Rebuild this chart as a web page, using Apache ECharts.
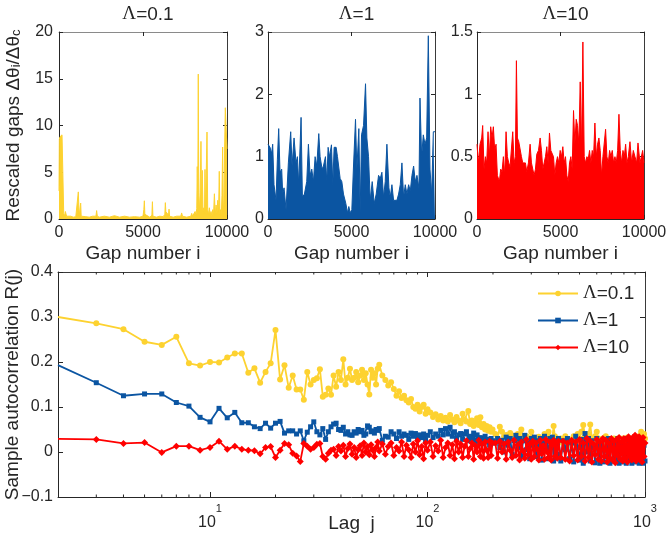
<!DOCTYPE html>
<html><head><meta charset="utf-8">
<script src="https://cdn.jsdelivr.net/npm/echarts@6/dist/echarts.min.js"></script>
<style>html,body{margin:0;padding:0;background:#fff}#c{width:670px;height:536px}</style>
</head><body><div id="c"></div>
<script>
// ---------- top panels: rescaled gaps vs gap number ----------
const gapIdx01 = [0,20,60,120,180,240,280,330,380,450,550,700,850,1000,1100,1150,1200,1260,1290,1320,1400,1600,1800,2000,2200,2240,2280,2400,2700,3000,3300,3600,3900,4200,4500,4800,5000,5050,5080,5110,5200,5400,5530,5560,5590,5800,6000,6200,6300,6330,6360,6450,6520,6550,6580,6800,7000,7250,7300,7350,7600,7850,7900,7950,8050,8100,8150,8200,8230,8260,8290,8320,8360,8400,8450,8490,8530,8570,8620,8660,8690,8720,8760,8810,8850,8900,8950,9000,9050,9100,9150,9200,9250,9300,9350,9400,9450,9500,9540,9580,9620,9660,9700,9740,9780,9820,9860,9900,9950,10000];
const gaps01 = [3.0,8.5,8.8,8.6,9.0,8.9,0.6,0.3,0.8,0.3,0.2,0.3,0.2,0.25,0.3,2.9,0.3,0.4,1.7,0.3,0.2,0.25,0.2,0.3,0.3,0.9,0.3,0.2,0.3,0.2,0.35,0.2,0.3,0.2,0.25,0.2,0.3,1.0,1.95,0.5,0.3,0.2,0.4,1.85,0.3,0.2,0.3,0.25,0.5,1.75,0.8,0.6,0.4,1.05,0.3,0.2,0.3,0.3,0.65,0.3,0.2,0.3,0.6,0.3,0.5,0.8,0.4,1.1,5.6,2.0,15.5,2.5,1.0,2.8,8.3,1.5,5.2,0.8,1.2,0.5,5.3,0.6,0.4,9.3,1.0,0.5,1.2,0.4,0.8,0.3,1.0,0.5,2.7,0.4,1.5,0.6,2.0,0.8,5.1,0.5,1.0,0.4,2.5,7.7,0.6,2.0,7.8,11.9,11.8,7.5];

const gapIdx1 = [0,120,220,280,360,480,560,640,720,820,880,960,1080,1220,1360,1440,1560,1680,1760,1840,1980,2060,2180,2320,2420,2520,2620,2720,2820,2920,3040,3120,3240,3320,3440,3520,3600,3680,3800,3880,3960,4080,4160,4240,4320,4420,4520,4660,4760,4840,4920,5020,5120,5240,5320,5440,5520,5600,5720,5840,5920,6020,6120,6240,6360,6480,6620,6720,6820,6920,7020,7120,7240,7320,7420,7520,7620,7720,7820,7920,8020,8120,8220,8320,8420,8520,8620,8720,8820,8920,9040,9100,9200,9300,9400,9500,9600,9700,9800,9900,10000];
const gaps1 = [1.2,1.15,1.05,1.2,0.55,0.3,0.95,1.45,0.75,0.8,0.4,0.5,0.15,0.9,1.4,0.85,1.3,0.9,1.0,0.55,1.63,0.35,0.4,0.6,1.2,0.7,0.8,0.6,1.0,0.85,1.37,1.0,0.8,0.85,1.0,0.6,1.15,1.0,1.19,0.55,1.15,1.15,1.0,1.0,0.65,0.6,0.4,0.25,0.1,0.2,0.1,0.15,0.85,1.6,0.8,1.45,0.1,1.35,1.5,2.17,1.3,1.0,0.3,0.6,0.25,0.4,0.7,0.65,0.75,0.35,0.6,1.2,0.5,0.35,0.55,0.3,0.3,0.3,0.4,0.55,0.9,0.35,0.55,0.4,0.55,0.45,0.7,0.85,0.6,0.7,0.5,1.94,1.0,1.35,1.2,1.3,2.94,0.8,0.4,1.4,1.4];

const gapIdx10 = [0,80,180,280,340,420,500,580,660,740,820,900,980,1060,1140,1220,1340,1420,1500,1580,1660,1740,1820,1900,1980,2060,2140,2220,2300,2360,2420,2500,2580,2660,2740,2820,2900,2980,3080,3180,3260,3340,3420,3500,3580,3680,3780,3860,3940,4020,4100,4180,4260,4340,4420,4500,4580,4660,4740,4820,4900,4980,5060,5140,5220,5300,5380,5460,5540,5620,5700,5780,5860,5940,6020,6100,6180,6260,6340,6420,6500,6580,6660,6740,6820,6900,6980,7060,7140,7220,7300,7380,7460,7540,7620,7700,7780,7860,7940,8020,8100,8180,8260,8340,8420,8500,8580,8660,8740,8820,8900,8980,9060,9160,9260,9360,9460,9560,9640,9760,9840,9920,10000];
const gaps10 = [0.6,0.45,0.6,0.65,0.75,0.4,0.5,0.45,0.7,0.5,0.74,0.65,0.74,0.55,0.6,0.35,0.3,0.4,0.38,0.5,0.35,0.7,0.5,0.45,0.42,0.42,0.7,0.45,0.5,1.27,0.65,0.62,0.62,0.5,0.45,0.45,0.45,0.38,0.45,0.6,0.45,0.4,0.35,0.4,0.52,0.55,0.65,0.55,0.4,0.45,0.5,0.58,0.45,0.69,0.55,0.55,0.5,0.35,0.45,0.5,0.45,0.55,0.5,0.58,0.45,0.5,0.35,0.3,0.45,0.5,0.4,0.87,0.6,0.8,0.75,0.6,1.1,0.55,1.42,0.5,0.45,0.5,0.48,0.55,0.45,0.55,0.5,0.77,0.5,0.6,0.65,0.55,0.35,0.5,0.5,0.72,0.5,0.45,0.55,0.5,0.55,0.45,0.5,0.45,0.55,0.84,0.55,0.45,0.55,0.5,0.6,0.45,0.5,0.62,0.45,0.55,0.5,0.45,0.61,0.45,0.5,0.55,0.45];

const gapYMax = [20, 3, 1.5];
const gapYInterval = [5, 1, 0.5];
const lambdaLabels = ['0.1', '1', '10'];

// ---------- bottom panel: sample autocorrelation vs lag ----------
const lags = [2,3,4,5,6,7,8,9,10,11,12,13,14,15,16,17,18,19,20,21,22,23,24,25,26,27,28,29,30,31,32,33,34,35,36,37,38,39,40,41,42,43,44,45,46,47,48,49,50,51,52,53,54,55,56,57,58,59,60,
  62,64,66,68,70,72,74,76,78,80,82,84,86,88,90,92,94,96,98,100,
  103,106,109,112,115,118,121,124,127,130,133,136,139,142,145,148,151,154,157,160,163,166,169,172,175,178,181,184,187,190,193,196,199,
  205,210,215,220,225,230,235,240,245,250,255,260,265,270,275,280,285,290,295,300,305,310,315,320,325,330,335,340,345,350,355,360,365,370,375,380,385,390,395,400,
  410,420,430,440,450,460,470,480,490,500,510,520,530,540,550,560,570,580,590,600,610,620,630,640,650,660,670,680,690,700,
  710,720,730,740,750,760,770,780,790,800,810,820,830,840,850,860,870,880,890,900,910,920,930,940,950,960,970,980,990,1000];
const acf01 = [.300,.286,.273,.245,.238,.256,.197,.192,.200,.199,
  .210,.219,.219,.176,.186,.154,.178,.197,.271,.161,
  .193,.143,.170,.139,.139,.116,.178,.150,.160,.164,
  .184,.123,.127,.141,.127,.170,.145,.178,.160,.206,
  .150,.165,.185,.160,.165,.178,.155,.170,.183,.160,
  .175,.150,.128,.183,.165,.175,.150,.185,.194,
  .170,.160,.148,.155,.140,.125,.135,.120,.125,.115,.110,.118,.100,.096,.105,.090,.100,.105,.085,.095,
  .088,.078,.084,.072,.080,.070,.076,.068,.082,.072,.066,.078,.070,.064,.085,.072,.068,.091,.062,.070,.058,.066,.075,.060,.077,.055,.062,.050,.058,.047,.055,.045,.050,
  .040,.030,.056,.045,.035,.038,.028,.042,.030,.036,.025,.040,.032,.050,.030,.026,.035,.020,.030,.045,
  .032,.025,.028,.015,.034,.030,.022,.030,.040,.025,.035,.045,.028,.022,.030,.058,.035,.025,.030,.020,
  .030,.020,.035,.015,.028,.022,.035,.018,.040,.030,.045,.060,.035,.028,.040,.061,.030,.025,.035,.045,
  .030,.025,.015,.030,.022,.035,.020,.028,.010,.025,.018,.030,.015,.025,.030,.020,.005,.022,.030,.020,
  .010,.025,.032,.015,.022,.030,.010,.025,.018,.030,.012,.020,.028,.035,.020,.045,.030,.025,.040,.030];
const acf1 = [.193,.154,.125,.129,.129,.110,.102,.077,.067,.097,
  .076,.088,.065,.065,.056,.052,.064,.053,.064,.068,
  .042,.047,.047,.040,.047,.025,.044,.056,.067,.045,
  .038,.052,.028,.045,.056,.062,.064,.050,.048,.055,
  .040,.045,.038,.037,.045,.042,.050,.045,.048,.037,
  .040,.058,.055,.045,.047,.042,.050,.048,.052,
  .026,.035,.033,.045,.040,.030,.045,.035,.040,.037,.028,.042,.035,.041,.030,.038,.032,.040,.027,.037,
  .045,.032,.040,.035,.048,.038,.052,.040,.055,.035,.045,.030,.038,.041,.028,.040,.045,.025,.035,.030,.042,.020,.038,.025,.032,.018,.030,.035,.022,.028,.015,.030,.025,
  .020,.030,.010,.026,.000,.033,.015,.030,-.005,.025,.037,.010,.030,-.010,.025,.037,.005,.020,-.015,.030,
  .015,.033,-.010,.025,.000,.030,-.018,.020,.035,.005,.025,-.015,.030,.010,.033,-.020,.015,.025,-.005,.030,
  -.020,.025,.005,.030,-.015,.020,-.022,.035,.010,-.018,.028,-.025,.041,.000,.030,-.020,.025,.010,-.024,.030,
  .015,-.025,.020,.005,-.022,.028,-.010,.030,-.025,.020,.010,-.020,.025,-.015,.030,-.025,.015,.020,-.022,.028,
  .005,-.025,.030,-.018,.020,.010,-.025,.025,-.015,.030,-.022,.015,.020,-.025,.028,-.010,.022,-.025,.015,-.020];
const acf10 = [.029,.028,.019,.021,-.001,.013,.013,.004,.010,.024,
  .006,.013,.006,.004,.003,-.004,.010,.012,-.012,.004,
  .019,.016,-.003,-.009,-.021,.019,.013,.006,.010,.017,
  .019,-.010,-.016,-.003,.004,.006,-.008,.012,.002,.015,
  -.010,.008,.018,-.005,.010,-.012,.005,.014,-.008,.020,
  .000,.012,-.006,.016,.004,-.010,.010,.022,.002,
  .018,-.005,.012,.020,-.008,.010,.002,.022,-.010,.015,.005,-.012,.018,.000,.025,-.006,.012,-.015,.020,.004,
  .022,-.010,.014,.002,.026,-.012,.010,.020,-.008,.016,-.015,.024,.000,.018,-.012,.012,.025,-.010,.008,.020,-.016,.014,.000,.026,-.010,.018,-.014,.022,.004,-.012,.024,-.008,.020,
  .020,-.014,.024,.000,.018,-.016,.022,.004,-.012,.026,-.008,.016,-.018,.022,.002,-.014,.028,-.006,.018,-.016,
  .024,-.010,.020,.006,-.018,.026,-.004,.014,-.016,.028,.000,-.012,.022,-.018,.016,.026,-.010,.020,-.014,.024,
  -.012,.024,-.016,.020,-.020,.026,-.008,.022,-.018,.028,-.010,.020,-.020,.030,-.012,.024,-.022,.018,-.006,.028,
  -.016,.022,-.020,.030,-.010,.026,-.022,.020,-.014,.030,-.018,.024,-.024,.028,-.008,.032,-.016,.022,-.020,.030,
  -.012,.026,-.022,.034,-.010,.028,-.018,.032,-.014,.037,-.020,.030,-.012,.034,-.018,.028,-.022,.032,-.010,.020];
const lagMinorTicks = [3,4,5,6,7,8,9,20,30,40,50,60,70,80,90,200,300,400,500,600,700,800,900];
const acfYMin = -0.1, acfYMax = 0.4, acfYInterval = 0.1;
const lagMin = 2, lagMax = 1000;

// ---------- styling ----------
const COLORS = ['#FDD230', '#0B55A2', '#FF0000'];
const INK = '#262626';
const SANS = 'Liberation Sans';
const SERIF = 'Liberation Serif';

const grids = [
  {left: 59, top: 32, width: 168, height: 187},
  {left: 268, top: 32, width: 167, height: 187},
  {left: 477, top: 32, width: 167, height: 187},
  {left: 58, top: 272, width: 587, height: 225}
];

const xAxes = [], yAxes = [], series = [];
const gapIdx = [gapIdx01, gapIdx1, gapIdx10];
const gapVals = [gaps01, gaps1, gaps10];
const yLabelMargin = [6, 4, 4];

for (let p = 0; p < 3; p++) {
  xAxes.push({
    gridIndex: p, type: 'value', position: 'bottom', min: 0, max: 10000, interval: 5000,
    axisLine: {onZero: false, lineStyle: {color: INK, width: 1}},
    axisTick: {inside: true, length: 4, lineStyle: {color: INK}},
    axisLabel: {color: INK, fontSize: 16, margin: 6, fontFamily: SANS, formatter: v => String(v)},
    splitLine: {show: false},
    name: 'Gap number i', nameLocation: 'middle', nameGap: 25, nameMoveOverlap: false,
    nameTextStyle: {color: INK, fontSize: 19, fontFamily: SANS}
  });
  xAxes.push({
    gridIndex: p, type: 'value', position: 'top', min: 0, max: 10000, interval: 5000,
    axisLine: {onZero: false, lineStyle: {color: '#8a8a8a', width: 1}},
    axisTick: {inside: true, length: 4, lineStyle: {color: INK}},
    axisLabel: {show: false}, splitLine: {show: false}
  });
  const yl = {
    gridIndex: p, type: 'value', position: 'left', min: 0, max: gapYMax[p], interval: gapYInterval[p],
    axisLine: {show: true, onZero: false, lineStyle: {color: INK, width: 1}},
    axisTick: {show: true, inside: true, length: 4, lineStyle: {color: INK}},
    axisLabel: {color: INK, fontSize: 16, margin: yLabelMargin[p], fontFamily: SANS},
    splitLine: {show: false}
  };
  if (p === 0) {
    yl.name = '{t|Rescaled gaps Δθ}{s|i}{t|/Δθ}{s|c}';
    yl.nameLocation = 'middle';
    yl.nameRotate = 90;
    yl.nameGap = 36;
    yl.nameMoveOverlap = false;
    yl.nameTextStyle = {
      color: INK, fontFamily: SANS,
      rich: {
        t: {fontSize: 19, lineHeight: 19, verticalAlign: 'top', color: INK, fontFamily: SANS},
        s: {fontSize: 13, lineHeight: 13, verticalAlign: 'bottom', padding: [12, 0, 0, 0], color: INK, fontFamily: SANS}
      }
    };
  }
  yAxes.push(yl);
  yAxes.push({
    gridIndex: p, type: 'value', position: 'right', min: 0, max: gapYMax[p], interval: gapYInterval[p],
    axisLine: {show: true, onZero: false, lineStyle: {color: '#3a3a3a', width: 1}},
    axisTick: {show: true, inside: true, length: 4, lineStyle: {color: INK}},
    axisLabel: {show: false}, splitLine: {show: false}
  });
  series.push({
    name: 'gaps ' + lambdaLabels[p], type: 'line',
    xAxisIndex: 2 * p, yAxisIndex: 2 * p,
    data: gapIdx[p].map((x, k) => [x, gapVals[p][k]]),
    showSymbol: false, symbol: 'none', sampling: null,
    lineStyle: {color: COLORS[p], width: 1},
    areaStyle: {color: COLORS[p], opacity: 1},
    itemStyle: {color: COLORS[p]},
    silent: true, z: 2
  });
}

// bottom grid axes
const isPow10 = v => Math.abs(Math.log10(v) - Math.round(Math.log10(v))) < 1e-6;
xAxes.push({
  gridIndex: 3, type: 'log', logBase: 10, position: 'bottom', min: lagMin, max: lagMax,
  axisLine: {onZero: false, lineStyle: {color: INK, width: 1}},
  axisTick: {inside: true, length: 5, lineStyle: {color: INK}},
  axisLabel: {
    color: INK, margin: 6, fontFamily: SANS,
    formatter: v => isPow10(v) && v >= 10 ? '{b|10}{s|' + Math.round(Math.log10(v)) + '}' : '',
    rich: {
      b: {fontSize: 16, lineHeight: 28, verticalAlign: 'bottom', color: INK, fontFamily: SANS},
      s: {fontSize: 11, lineHeight: 11, verticalAlign: 'top', color: INK, fontFamily: SANS}
    }
  },
  splitLine: {show: false}, minorTick: {show: false},
  name: 'Lag  j', nameLocation: 'middle', nameGap: 17, nameMoveOverlap: false,
  nameTextStyle: {color: INK, fontSize: 19, fontFamily: SANS}
});
xAxes.push({
  gridIndex: 3, type: 'log', logBase: 10, position: 'top', min: lagMin, max: lagMax,
  axisLine: {onZero: false, lineStyle: {color: '#3a3a3a', width: 1}},
  axisTick: {inside: true, length: 5, lineStyle: {color: INK}},
  axisLabel: {show: false}, splitLine: {show: false}
});
const fmtY = v => { const r = parseFloat(v.toFixed(2)); return r < 0 ? '\u2212' + Math.abs(r) : String(r); };
yAxes.push({
  gridIndex: 3, type: 'value', position: 'left', min: acfYMin, max: acfYMax, interval: acfYInterval,
  axisLine: {show: true, onZero: false, lineStyle: {color: INK, width: 1}},
  axisTick: {show: true, inside: true, length: 5, lineStyle: {color: INK}},
  axisLabel: {color: INK, fontSize: 16, margin: 5, fontFamily: SANS, formatter: fmtY},
  splitLine: {show: false},
  name: 'Sample autocorrelation R(j)', nameLocation: 'middle', nameRotate: 90, nameGap: 36, nameMoveOverlap: false,
  nameTextStyle: {color: INK, fontSize: 19, fontFamily: SANS}
});
yAxes.push({
  gridIndex: 3, type: 'value', position: 'right', min: acfYMin, max: acfYMax, interval: acfYInterval,
  axisLine: {show: true, onZero: false, lineStyle: {color: '#3a3a3a', width: 1}},
  axisTick: {show: true, inside: true, length: 5, lineStyle: {color: INK}},
  axisLabel: {show: false}, splitLine: {show: false}
});

const acfSets = [acf01, acf1, acf10];
const acfSymbols = ['circle', 'rect', 'diamond'];
const acfSizes = [6, 5, 7];
for (let p = 0; p < 3; p++) {
  series.push({
    name: 'Λ=' + lambdaLabels[p], type: 'line', xAxisIndex: 6, yAxisIndex: 6,
    data: lags.map((j, k) => j === lagMin ? {value: [j, acfSets[p][k]], symbol: 'none'} : [j, acfSets[p][k]]),
    symbol: acfSymbols[p], symbolSize: acfSizes[p], showSymbol: true,
    lineStyle: {color: COLORS[p], width: 1.8},
    itemStyle: {color: COLORS[p], borderWidth: 0},
    clip: true, z: 3 + p, silent: true
  });
}
series.push({
  type: 'custom', xAxisIndex: 6, yAxisIndex: 6, silent: true, clip: false, z: 10,
  data: lagMinorTicks.map(v => [v, 0]),
  encode: {x: 0, y: 1},
  renderItem: (params, api) => {
    const v = api.value(0);
    const b = api.coord([v, acfYMin]);
    const t = api.coord([v, acfYMax]);
    return {type: 'group', children: [
      {type: 'line', shape: {x1: b[0], y1: b[1], x2: b[0], y2: b[1] - 2.5}, style: {stroke: INK, lineWidth: 1}},
      {type: 'line', shape: {x1: t[0], y1: t[1], x2: t[0], y2: t[1] + 2.5}, style: {stroke: INK, lineWidth: 1}}
    ]};
  }
});

const titleCenters = grids.slice(0, 3).map(g => g.left + g.width / 2);
const titleRich = {
  g: {fontFamily: SERIF, fontSize: 19, color: INK, fontWeight: 'normal'},
  n: {fontFamily: SANS, fontSize: 19, color: INK, fontWeight: 'normal'}
};

const option = {
  animation: false,
  backgroundColor: '#fff',
  textStyle: {fontFamily: SANS},
  title: lambdaLabels.map((l, p) => ({
    text: '{g|Λ}{n|=' + l + '}', left: titleCenters[p], top: 0, textAlign: 'center',
    textStyle: {rich: titleRich, fontSize: 19, fontWeight: 'normal'}
  })),
  legend: {
    data: lambdaLabels.map(l => 'Λ=' + l),
    orient: 'vertical', left: 537, top: 284, padding: 0,
    itemWidth: 40, itemHeight: 7, itemGap: 8,
    formatter: name => '{g|Λ}{n|' + name.slice(1) + '}',
    textStyle: {rich: titleRich, fontSize: 19},
    selectedMode: false
  },
  grid: grids.map(g => Object.assign({containLabel: false, outerBoundsMode: 'none'}, g)),
  xAxis: xAxes,
  yAxis: yAxes,
  series: series
};

const chart = echarts.init(document.getElementById('c'), null, {renderer: 'canvas'});
chart.setOption(option);
</script>
</body></html>
